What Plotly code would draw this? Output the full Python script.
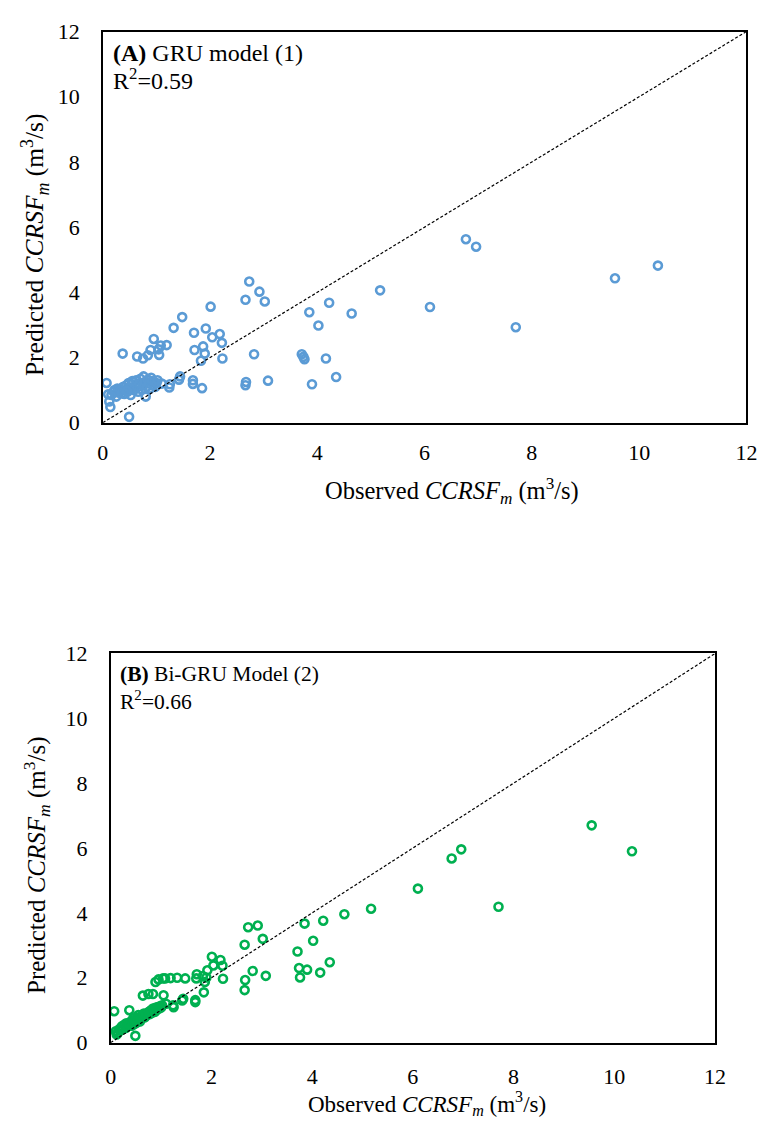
import plotly.graph_objects as go

# ---- data (observed vs predicted CCRSFm, m3/s) ----
observed = [
    10.35, 9.55, 7.70, 6.96, 6.77, 6.10, 5.17, 4.64, 4.35, 4.22, 4.16, 4.02, 3.90, 3.85,
    3.71, 3.74, 3.76, 3.08, 3.02, 2.92, 2.82, 2.73, 2.66, 2.67, 2.66, 2.23, 2.22, 2.18,
    2.04, 2.01, 1.92, 1.90, 1.87, 1.85, 1.83, 1.71, 1.70, 1.68, 1.68, 1.48, 1.44, 1.42,
    1.32, 1.25, 1.24, 1.19, 1.08, 1.05, 1.04, 0.95, 0.89, 0.84, 0.75, 0.64, 0.37, 0.49,
    0.07, 0.14, 0.12, 0.10,
    0.16, 0.20, 0.22, 0.25, 0.27, 0.30, 0.31, 0.33, 0.35, 0.38, 0.40, 0.42, 0.44, 0.46,
    0.48, 0.50, 0.52, 0.54, 0.56, 0.58, 0.60, 0.62, 0.64, 0.66, 0.68, 0.70, 0.72, 0.74,
    0.76, 0.78, 0.80, 0.82, 0.84, 0.86, 0.88, 0.90, 0.92, 0.94, 0.96, 0.98, 1.00, 1.02,
    1.10, 0.55, 0.45,
]
pred_gru = [
    4.82, 4.43, 2.93, 5.40, 5.63, 3.55, 4.06, 3.35, 1.40, 3.68, 1.97, 2.98, 1.18, 3.39,
    2.10, 2.02, 1.95, 1.29, 3.72, 4.02, 2.10, 4.33, 3.77, 1.25, 1.15, 1.97, 2.45, 2.72,
    2.62, 3.56, 2.89, 2.12, 2.34, 1.06, 1.90, 2.23, 2.76, 1.30, 1.19, 3.24, 1.42, 1.32,
    2.91, 1.18, 1.08, 2.38, 2.37, 2.08, 2.25, 2.57, 2.23, 2.07, 1.97, 2.03, 2.12, 0.18,
    1.22, 0.48, 0.65, 0.87,
    0.85, 0.95, 1.00, 0.80, 1.05, 0.92, 1.02, 0.98, 0.90, 1.10, 0.88, 1.00, 1.15, 0.95,
    1.22, 1.05, 0.85, 1.18, 1.25, 1.00, 1.12, 1.30, 1.08, 0.95, 1.20, 1.35, 1.02, 1.15,
    1.42, 1.25, 0.80, 1.10, 1.32, 1.20, 1.05, 1.38, 1.28, 1.15, 1.25, 1.10, 1.22, 1.30,
    1.20, 1.28, 0.98,
]
pred_bigru = [
    5.90, 6.70, 4.19, 5.96, 5.68, 4.75, 4.13, 3.96, 2.48, 3.76, 2.16, 3.14, 2.25, 3.67,
    2.81, 2.30, 2.01, 2.06, 3.20, 3.61, 2.21, 3.56, 3.02, 1.93, 1.62, 1.97, 2.37, 2.55,
    2.38, 2.65, 2.23, 2.01, 1.87, 1.55, 2.05, 2.11, 1.98, 1.31, 1.25, 1.98, 1.35, 1.30,
    2.00, 1.09, 1.15, 1.99, 1.98, 1.46, 1.98, 1.95, 1.87, 1.50, 1.50, 1.45, 1.00, 0.21,
    0.97, 0.30, 0.25, 0.35,
    0.40, 0.38, 0.50, 0.42, 0.55, 0.45, 0.60, 0.50, 0.58, 0.55, 0.65, 0.52, 0.62, 0.70,
    0.58, 0.68, 0.62, 0.72, 0.78, 0.65, 0.80, 0.75, 0.82, 0.90, 0.78, 0.88, 0.85, 0.92,
    0.95, 0.88, 1.00, 0.92, 1.05, 1.00, 0.95, 1.08, 1.02, 1.10, 1.05, 1.12, 1.08, 1.15,
    1.20, 0.85, 0.75,
]
one_to_one = [0, 12]
tick_vals = [0, 2, 4, 6, 8, 10, 12]

FONT = "Liberation Serif, Times New Roman, serif"
BLUE = "#5B9BD5"
GREEN = "#00B050"
W, H = 775, 1128

fig = go.Figure()

fig.add_trace(go.Scatter(x=observed, y=pred_gru, mode="markers", xaxis="x", yaxis="y",
                         marker=dict(symbol="circle-open", size=8, color=BLUE,
                                     line=dict(width=2.6, color=BLUE)),
                         showlegend=False))
fig.add_trace(go.Scatter(x=one_to_one, y=one_to_one, mode="lines", xaxis="x", yaxis="y",
                         line=dict(color="black", width=1.2, dash="3px,2px"),
                         showlegend=False))
fig.add_trace(go.Scatter(x=observed, y=pred_bigru, mode="markers", xaxis="x2", yaxis="y2",
                         marker=dict(symbol="circle-open", size=8, color=GREEN,
                                     line=dict(width=2.6, color=GREEN)),
                         showlegend=False))
fig.add_trace(go.Scatter(x=one_to_one, y=one_to_one, mode="lines", xaxis="x2", yaxis="y2",
                         line=dict(color="black", width=1.2, dash="3px,2px"),
                         showlegend=False))

def ax(domain, anchor, size, standoff):
    return dict(domain=domain, anchor=anchor, range=[0, 12], tickvals=tick_vals,
                showgrid=False, zeroline=False, showline=True, linecolor="black",
                linewidth=1.5, mirror=True, ticks="", ticklabelstandoff=standoff,
                tickfont=dict(family=FONT, size=size, color="black"), fixedrange=True)

fig.update_layout(
    width=W, height=H, margin=dict(l=0, r=0, t=0, b=0),
    paper_bgcolor="white", plot_bgcolor="white",
    xaxis=ax([99 / W, 757 / W], "y", 22, 9),
    yaxis=ax([1 - 420 / H, 1 - 20 / H], "x", 22, 17),
    xaxis2=ax([107 / W, 725 / W], "y2", 22, 13),
    yaxis2=ax([1 - 1054 / H, 1 - 656 / H], "x2", 22, 17),
)

xtitle = "Observed <i>CCRSF<sub>m</sub></i> (m<sup>3</sup>/s)"
ytitle = "Predicted <i>CCRSF<sub>m</sub></i> (m<sup>3</sup>/s)"

def ann(text, x, y, size, xanchor="center", angle=0):
    fig.add_annotation(text=text, x=x / W, y=1 - y / H, xref="paper", yref="paper",
                       xanchor=xanchor, yanchor="middle", showarrow=False, textangle=angle,
                       font=dict(family=FONT, size=size, color="black"))

ann(xtitle, 456, 490, 24.5)
ann(ytitle, 29, 238, 25.5, angle=-90)
ann(xtitle, 430, 1116, 23)
ann(ytitle, 31, 872, 25, angle=-90)
ann("<b>(A)</b> GRU model (1)", 107, 42, 24, xanchor="left")
ann("R<sup>2</sup>=0.59", 107, 69, 24, xanchor="left")
ann("<b>(B)</b> Bi-GRU Model (2)", 115, 677, 21.5, xanchor="left")
ann("R<sup>2</sup>=0.66", 115, 704, 21.5, xanchor="left")

fig.write_html("out.html")
